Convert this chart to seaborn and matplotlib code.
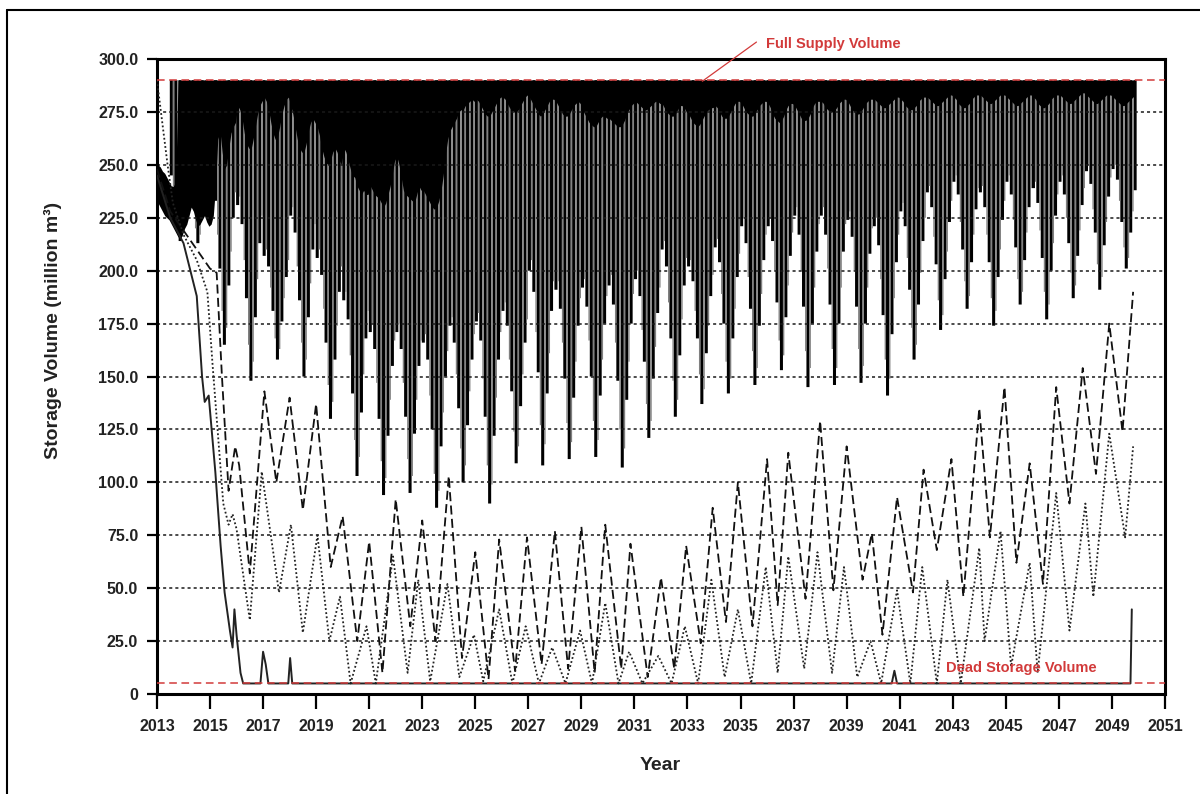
import numpy as np
import matplotlib
matplotlib.use("Agg")
import matplotlib.pyplot as plt
import seaborn as sns

FULL_SUPPLY = 290.0
DEAD_STORAGE = 5.0
START_YEAR = 2013
nan = np.nan

# Lower reach of the monthly storage swing below full supply (Jan..Dec, one row per year 2013-2049)
swing_low = [
    [nan, nan, nan, nan, nan, nan, 245, 240, 228, 218, 214, 216],
    [248, 250, 244, 237, 230, 220, 213, 217, 226, 233, 241, 246],
    [241, 245, 233, 217, 201, 181, 165, 173, 193, 209, 225, 237],
    [231, 235, 222, 205, 187, 165, 148, 157, 178, 196, 213, 226],
    [207, 210, 202, 192, 181, 168, 158, 163, 176, 187, 197, 205],
    [226, 230, 218, 202, 186, 166, 150, 158, 178, 194, 210, 222],
    [206, 210, 198, 182, 166, 146, 130, 138, 158, 174, 190, 202],
    [186, 190, 177, 160, 142, 120, 103, 112, 133, 151, 168, 181],
    [171, 175, 163, 147, 130, 110, 94, 102, 122, 139, 155, 167],
    [171, 175, 163, 147, 131, 111, 95, 103, 123, 139, 155, 167],
    [166, 170, 158, 141, 125, 104, 88, 96, 117, 133, 150, 162],
    [174, 178, 166, 151, 135, 116, 100, 108, 127, 143, 158, 170],
    [176, 180, 167, 149, 131, 108, 90, 99, 122, 140, 158, 171],
    [181, 185, 174, 158, 143, 124, 109, 117, 136, 151, 166, 177],
    [200, 205, 190, 171, 152, 127, 108, 118, 142, 161, 181, 195],
    [191, 195, 182, 166, 149, 128, 111, 119, 140, 157, 174, 187],
    [192, 196, 183, 167, 150, 129, 112, 120, 141, 158, 175, 188],
    [193, 198, 184, 166, 148, 125, 107, 116, 139, 157, 175, 189],
    [196, 200, 188, 172, 157, 137, 121, 129, 149, 164, 180, 192],
    [210, 214, 202, 185, 168, 148, 131, 139, 160, 177, 193, 206],
    [202, 205, 195, 181, 168, 151, 137, 144, 161, 174, 188, 198],
    [211, 215, 204, 189, 175, 157, 142, 149, 168, 182, 197, 208],
    [221, 225, 213, 197, 182, 162, 146, 154, 174, 189, 205, 217],
    [221, 225, 214, 200, 185, 167, 153, 160, 178, 193, 207, 218],
    [226, 230, 217, 200, 183, 162, 145, 154, 175, 192, 209, 222],
    [226, 230, 217, 201, 184, 163, 146, 154, 175, 192, 209, 222],
    [224, 228, 216, 200, 183, 163, 147, 155, 175, 192, 208, 220],
    [221, 225, 212, 196, 179, 158, 141, 149, 170, 187, 204, 217],
    [228, 232, 221, 206, 191, 173, 158, 165, 184, 199, 214, 225],
    [237, 240, 230, 216, 203, 186, 172, 179, 196, 209, 223, 233],
    [242, 245, 236, 223, 210, 195, 182, 188, 204, 217, 229, 239],
    [237, 240, 230, 217, 204, 187, 174, 181, 197, 210, 224, 233],
    [242, 245, 236, 224, 211, 196, 184, 190, 205, 218, 230, 239],
    [239, 242, 232, 219, 206, 190, 177, 184, 200, 213, 226, 236],
    [242, 245, 236, 225, 213, 199, 187, 193, 207, 219, 231, 239],
    [247, 250, 241, 229, 218, 203, 191, 197, 212, 223, 235, 244],
    [248, 250, 243, 233, 223, 211, 201, 206, 218, 228, 238, nan],
]

# Lower edge of the band that stays close to full supply (Jan..Dec, 2013-2049)
band_low = [
    [232, 230, 228, 226, 225, 224, 222, 220, 218, 216, 215, 217],
    [220, 222, 226, 230, 228, 224, 221, 222, 224, 226, 223, 221],
    [222, 226, 240, 262, 266, 256, 248, 250, 258, 265, 268, 270],
    [278, 276, 272, 265, 260, 258, 257, 262, 268, 274, 278, 280],
    [282, 280, 276, 270, 265, 262, 263, 268, 274, 278, 281, 282],
    [278, 274, 268, 262, 258, 256, 256, 260, 266, 270, 272, 270],
    [268, 264, 258, 254, 251, 250, 252, 256, 258, 256, 252, 250],
    [258, 256, 252, 248, 245, 244, 240, 238, 236, 238, 236, 236],
    [240, 238, 236, 235, 234, 232, 230, 232, 236, 240, 246, 252],
    [254, 250, 244, 238, 236, 235, 234, 233, 232, 236, 240, 238],
    [238, 236, 234, 232, 230, 229, 230, 233, 238, 245, 255, 262],
    [266, 268, 270, 272, 275, 276, 276, 278, 279, 280, 281, 280],
    [281, 280, 278, 276, 274, 273, 273, 275, 277, 279, 281, 282],
    [282, 281, 279, 277, 276, 275, 275, 276, 278, 280, 282, 283],
    [282, 280, 278, 276, 274, 273, 274, 276, 278, 280, 281, 281],
    [280, 278, 276, 274, 273, 273, 274, 276, 278, 279, 280, 279],
    [276, 274, 272, 270, 269, 268, 268, 270, 272, 273, 273, 272],
    [272, 271, 270, 269, 268, 268, 269, 271, 274, 276, 278, 279],
    [280, 279, 278, 277, 276, 276, 277, 278, 279, 280, 280, 279],
    [279, 277, 275, 274, 273, 273, 274, 276, 278, 278, 277, 275],
    [274, 272, 270, 269, 268, 269, 271, 273, 275, 276, 277, 277],
    [278, 277, 275, 273, 272, 272, 273, 275, 277, 279, 280, 280],
    [279, 277, 275, 274, 273, 273, 274, 276, 278, 279, 280, 280],
    [279, 277, 274, 272, 271, 270, 271, 273, 276, 278, 279, 279],
    [278, 276, 274, 272, 271, 271, 272, 274, 277, 279, 280, 280],
    [280, 279, 277, 276, 275, 275, 276, 277, 279, 280, 281, 281],
    [280, 278, 276, 275, 274, 274, 275, 277, 279, 280, 281, 281],
    [281, 280, 279, 278, 277, 277, 278, 279, 280, 281, 282, 282],
    [281, 280, 278, 277, 276, 276, 277, 278, 280, 281, 282, 282],
    [282, 281, 280, 279, 278, 278, 279, 280, 281, 282, 283, 283],
    [282, 281, 279, 278, 277, 277, 278, 279, 281, 282, 283, 283],
    [283, 282, 281, 280, 279, 279, 280, 281, 282, 283, 283, 283],
    [282, 281, 280, 279, 278, 278, 279, 280, 281, 282, 283, 283],
    [282, 281, 279, 278, 277, 277, 278, 279, 281, 282, 283, 283],
    [283, 282, 281, 280, 279, 279, 280, 281, 282, 283, 284, 284],
    [283, 282, 281, 280, 279, 279, 280, 281, 282, 283, 283, 283],
    [282, 281, 280, 279, 278, 278, 279, 280, 281, 282, 283, nan],
]
# Upper edge of that band before the reservoir first reaches full supply (Jan-Sep 2013)
band_top_2013 = [250, 249, 247, 246, 244, 242, 240, 240, 242]

# Storage trajectories of the other scenarios (turning points: decimal year, volume)
dashed_year = [2013.0, 2013.5, 2014.0, 2014.5, 2015.0, 2015.25, 2015.45, 2015.7, 2015.95, 2016.1,
               2016.5, 2017.05, 2017.5, 2018.0, 2018.5, 2019.0, 2019.55, 2020.0, 2020.55, 2021.0,
               2021.5, 2022.0, 2022.55, 2023.0, 2023.5, 2024.0, 2024.5, 2025.0, 2025.5, 2025.9,
               2026.5, 2026.95, 2027.5, 2028.0, 2028.5, 2029.0, 2029.5, 2029.9, 2030.5, 2030.85,
               2031.5, 2032.0, 2032.5, 2032.95, 2033.5, 2033.95, 2034.45, 2034.9, 2035.45, 2036.0,
               2036.4, 2036.8, 2037.45, 2038.0, 2038.5, 2039.0, 2039.6, 2039.95, 2040.35, 2040.9,
               2041.5, 2041.9, 2042.4, 2042.95, 2043.4, 2044.0, 2044.4, 2044.95, 2045.4, 2045.9,
               2046.4, 2046.9, 2047.4, 2047.9, 2048.4, 2048.9, 2049.4, 2049.8]
dashed_vol = [248, 228, 219, 210, 201, 199, 150, 96, 117, 108,
              57, 143, 100, 140, 87, 137, 60, 84, 25, 72,
              10, 92, 32, 82, 25, 103, 17, 67, 7, 73,
              11, 74, 14, 77, 12, 79, 10, 80, 12, 71,
              8, 55, 12, 70, 24, 88, 34, 100, 32, 111,
              42, 114, 45, 129, 49, 117, 54, 76, 28, 93,
              48, 106, 68, 111, 46, 135, 74, 145, 62, 109,
              52, 145, 90, 154, 104, 175, 124, 190]

dotted_year = [2013.0, 2013.2, 2013.4, 2013.6, 2014.0, 2014.5, 2014.9, 2015.1, 2015.5, 2015.7,
               2015.85, 2016.0, 2016.5, 2016.95, 2017.6, 2018.05, 2018.5, 2019.05, 2019.5, 2019.9,
               2020.3, 2020.9, 2021.25, 2021.9, 2022.45, 2022.85, 2023.3, 2023.95, 2024.4, 2024.95,
               2025.3, 2025.9, 2026.4, 2026.9, 2027.4, 2027.9, 2028.4, 2028.95, 2029.4, 2029.9,
               2030.4, 2030.8, 2031.3, 2031.9, 2032.4, 2032.9, 2033.4, 2033.9, 2034.4, 2034.9,
               2035.4, 2035.95, 2036.4, 2036.8, 2037.4, 2037.9, 2038.45, 2038.9, 2039.4, 2039.9,
               2040.3, 2040.9, 2041.4, 2041.85, 2042.4, 2042.8, 2043.3, 2044.0, 2044.2, 2044.8,
               2045.2, 2045.9, 2046.2, 2046.9, 2047.4, 2048.0, 2048.3, 2048.9, 2049.5, 2049.8]
dotted_vol = [290, 270, 250, 232, 217, 205, 190, 155, 90, 80,
              85, 78, 35, 105, 48, 80, 29, 75, 25, 46,
              5, 32, 5, 65, 10, 54, 6, 52, 8, 28,
              6, 40, 5, 32, 5, 22, 5, 30, 5, 43,
              5, 20, 5, 18, 5, 32, 5, 54, 8, 40,
              5, 60, 10, 65, 12, 67, 10, 60, 8, 25,
              5, 49, 5, 60, 5, 54, 5, 69, 25, 77,
              13, 62, 10, 95, 30, 90, 46, 123, 74, 117]

solid_year = [2013.0, 2013.5, 2014.0, 2014.5, 2014.7, 2014.8, 2014.95, 2015.2, 2015.4, 2015.55,
              2015.75, 2015.85, 2015.92, 2016.0, 2016.15, 2016.25, 2016.9, 2017.0, 2017.1, 2017.2,
              2017.95, 2018.02, 2018.1, 2040.7, 2040.8, 2040.9, 2049.7, 2049.75]
solid_vol = [245, 225, 213, 188, 150, 138, 141, 105, 70, 48,
             30, 22, 40, 28, 10, 5, 5, 20, 14, 5,
             5, 17, 5, 5, 11, 5, 5, 40]

y_ticks = [0, 25, 50, 75, 100, 125, 150, 175, 200, 225, 250, 275, 300]
y_tick_labels = ["0", "25.0", "50.0", "75.0", "100.0", "125.0", "150.0", "175.0",
                 "200.0", "225.0", "250.0", "275.0", "300.0"]
x_ticks = list(range(2013, 2052, 2))

RED = "#d23a3a"
GREY = "#808080"

sns.set_theme(style="white")
plt.rcParams["font.family"] = ["Liberation Sans", "DejaVu Sans"]
plt.rcParams["font.weight"] = "bold"

fig = plt.figure(figsize=(12, 7.94), dpi=100)
ax = fig.add_axes([0.1308, 0.1259, 0.8400, 0.7998])

# monthly swings hanging from full supply: wide dark strokes with narrower grey strokes between
low = np.array(swing_low, dtype=float).ravel()
months = START_YEAR + (np.arange(low.size) + 0.5) / 12.0
ok = ~np.isnan(low)
idx = np.arange(low.size)
for parity, col, w, z in ((0, "black", 0.115, 1.0), (1, GREY, 0.052, 1.1)):
    sel = ok & (idx % 2 == parity)
    bars = ax.bar(months[sel], FULL_SUPPLY - low[sel], bottom=low[sel], width=w,
                  color=col, linewidth=0, zorder=z)
    for b in bars:
        b.set_snap(False)

blow = np.array(band_low, dtype=float).ravel()
btop = np.full(blow.size, FULL_SUPPLY)
btop[:len(band_top_2013)] = band_top_2013
okb = ~np.isnan(blow)
ax.fill_between(months[okb], blow[okb], btop[okb], color="black", linewidth=0, zorder=1.2)

sns.lineplot(x=dashed_year, y=dashed_vol, ax=ax, color="#111111", linewidth=1.3,
             linestyle=(0, (5, 2.4)), zorder=3)
sns.lineplot(x=dotted_year, y=dotted_vol, ax=ax, color="#222222", linewidth=1.3,
             linestyle=(0, (1, 1.3)), zorder=3)
sns.lineplot(x=solid_year, y=solid_vol, ax=ax, color="#222222", linewidth=1.4, zorder=3)

ax.axhline(FULL_SUPPLY, color=RED, linewidth=1.1, linestyle=(0, (5, 3)), zorder=4)
ax.axhline(DEAD_STORAGE, color=RED, linewidth=1.1, linestyle=(0, (5, 3)), zorder=4)

ax.set_xlim(2013, 2051)
ax.set_ylim(0, 300)
ax.set_xticks(x_ticks)
ax.set_xticklabels([str(t) for t in x_ticks])
ax.set_yticks(y_ticks)
ax.set_yticklabels(y_tick_labels)

for y in y_ticks[1:-1]:
    ax.axhline(y, color="#1a1a1a", linewidth=1.1, linestyle=(0, (2, 2.0)), zorder=2.5)

for s in ax.spines.values():
    s.set_visible(True)
    s.set_color("black")
    s.set_linewidth(2.2)
ax.tick_params(axis="x", direction="out", length=11, width=1.6, pad=7, labelsize=11.5,
               colors="black", bottom=True)
ax.tick_params(axis="y", direction="out", length=7.5, width=1.6, pad=6, labelsize=11.5,
               colors="black", left=True)
for lab in ax.get_xticklabels() + ax.get_yticklabels():
    lab.set_fontweight("bold")
    lab.set_color("#222222")

ax.set_xlabel("Year", fontsize=14, fontweight="bold", color="#222222")
ax.set_ylabel("Storage Volume (million m³)", fontsize=14, fontweight="bold", color="#222222")
ax.xaxis.set_label_coords(0.499, -0.099)
ax.yaxis.set_label_coords(-0.094, 0.573)

ax.plot([2033.56, 2035.6], [289.5, 308.0], color=RED, linewidth=0.9, clip_on=False, zorder=5)
ax.text(2035.95, 307.3, "Full Supply Volume", color=RED, fontsize=10.5, fontweight="bold",
        ha="left", va="center", clip_on=False)
ax.text(2042.75, 12.3, "Dead Storage Volume", color=RED, fontsize=10.5, fontweight="bold",
        ha="left", va="center", zorder=6)

# outer frame
fig.add_artist(plt.Line2D([7 / 1200, 1.0], [1 - 10 / 794, 1 - 10 / 794],
                          color="black", linewidth=1.5, transform=fig.transFigure))
fig.add_artist(plt.Line2D([7 / 1200, 7 / 1200], [0.0, 1 - 10 / 794],
                          color="black", linewidth=1.5, transform=fig.transFigure))

fig.savefig("out.png", dpi=100)
